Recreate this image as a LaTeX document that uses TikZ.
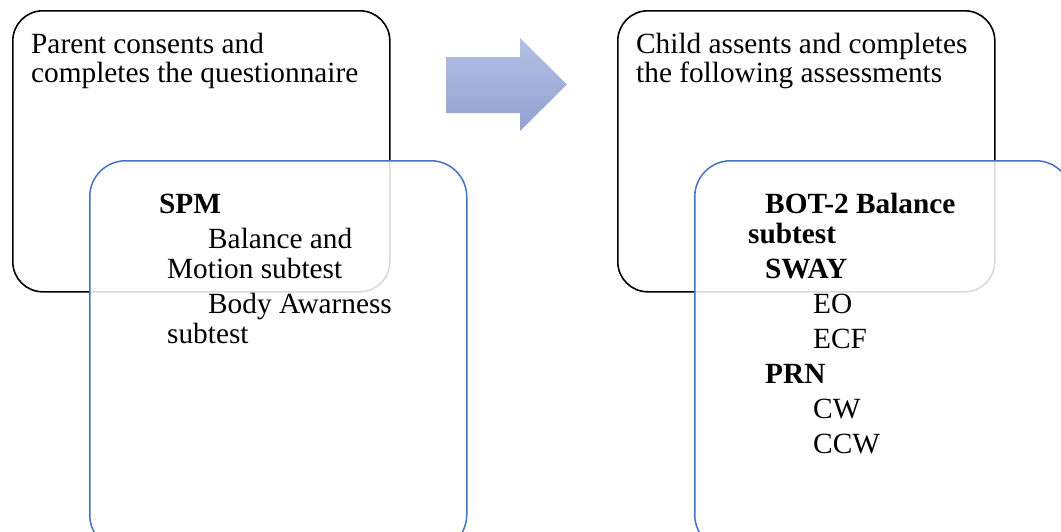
\documentclass[tikz,border=0pt]{standalone}
\usepackage{fontspec}
\setmainfont{Liberation Serif}
\definecolor{boxblue}{RGB}{68,114,196}
\definecolor{arrowtop}{RGB}{180,192,228}
\definecolor{arrowbot}{RGB}{146,161,207}
\begin{document}
\begin{tikzpicture}[x=1pt,y=-1pt,
  outerbox/.style={draw=black, line width=1.6pt, rounded corners=30pt,
    anchor=north west, minimum width=377pt, minimum height=281pt, inner sep=0pt},
  innerbox/.style={draw=boxblue, line width=1.5pt, rounded corners=36pt,
    fill=white, fill opacity=0.86, anchor=north west,
    minimum width=377pt, minimum height=390pt, inner sep=0pt},
  txt/.style={anchor=base west, inner sep=0pt, font=\fontsize{29.3}{29.3}\selectfont},
  btxt/.style={txt, font=\fontsize{29.3}{29.3}\selectfont\bfseries}]
\useasboundingbox (0,0) rectangle (1061,531);
\clip (0,0) rectangle (1061,531);

% parent step
\node[outerbox] (parent) at (12,10) {};
\node[txt] (p1) at (31,53) {Parent consents and};
\node[txt] (p2) at (31,82) {completes the questionnaire};
\node[innerbox] (spmbox) at (89,160) {};
\node[btxt] (spm) at (159,213) {SPM};
\node[txt] (bal1) at (208,248) {Balance and};
\node[txt] (bal2) at (167,278) {Motion subtest};
\node[txt] (body1) at (208,313) {Body Awarness};
\node[txt] (body2) at (167,343) {subtest};

% transition arrow
\shade[top color=arrowtop, bottom color=arrowbot]
  (446,57) -- (520,57) -- (520,38) -- (567,84.5) -- (520,131) -- (520,113) -- (446,113) -- cycle;

% child step
\node[outerbox] (child) at (617,10) {};
\node[txt] (c1) at (636,53) {Child assents and completes};
\node[txt] (c2) at (636,82) {the following assessments};
\node[innerbox] (botbox) at (694,160) {};
\node[btxt] (bot1) at (765,213) {BOT-2 Balance};
\node[btxt] (bot2) at (748,243) {subtest};
\node[btxt] (sway) at (765,278) {SWAY};
\node[txt] (eo) at (813,313) {EO};
\node[txt] (ecf) at (813,348) {ECF};
\node[btxt] (prn) at (765,383) {PRN};
\node[txt] (cw) at (813,418) {CW};
\node[txt] (ccw) at (813,453) {CCW};
\end{tikzpicture}
\end{document}
